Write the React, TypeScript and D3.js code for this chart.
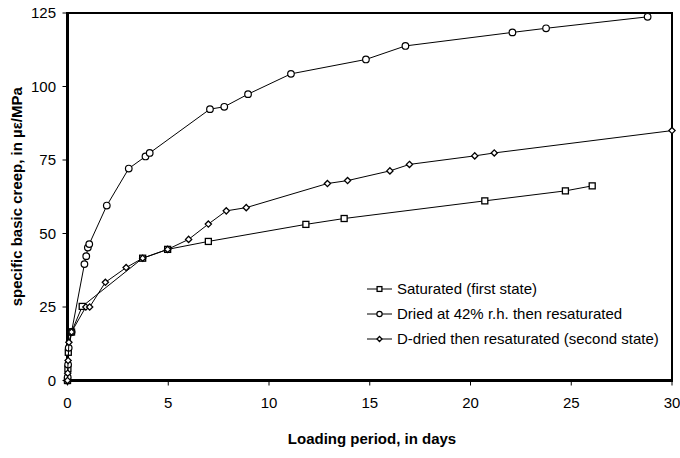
import React from "react";
import * as d3 from "d3";

const xTicks = [0, 5, 10, 15, 20, 25, 30];
const yTicks = [0, 25, 50, 75, 100, 125];

const satDays = [0, 0.02, 0.04, 0.2, 0.73, 3.73, 4.97, 6.99, 11.83, 13.73, 20.71, 24.71, 26.04];
const satVals = [0, 4.0, 9.6, 16.5, 25.2, 41.6, 44.6, 47.3, 53.1, 55.1, 61.1, 64.5, 66.2];

const driedDays = [0, 0.01, 0.03, 0.06, 0.2, 0.84, 0.93, 1.01, 1.08, 1.95, 3.04, 3.87, 4.08, 7.07, 7.78, 8.96, 11.09, 14.81, 16.77, 22.08, 23.75, 28.79];
const driedVals = [0, 1.1, 5.4, 11.1, 16.5, 39.6, 42.3, 45.2, 46.4, 59.5, 72.1, 76.2, 77.4, 92.3, 93.1, 97.4, 104.3, 109.2, 113.8, 118.4, 119.8, 123.7];

const ddDays = [0, 0.01, 0.03, 0.07, 0.2, 0.91, 1.1, 1.88, 2.91, 3.73, 4.97, 6.01, 6.99, 7.88, 8.87, 12.9, 13.9, 16.0, 16.97, 20.21, 21.18, 30.0];
const ddVals = [0, 2.5, 6.8, 13.0, 16.5, 25.0, 25.0, 33.4, 38.4, 41.6, 44.6, 48.0, 53.2, 57.7, 58.8, 67.0, 68.0, 71.3, 73.5, 76.4, 77.4, 85.0];

const legendLabels = [
  "Saturated (first state)",
  "Dried at 42% r.h. then resaturated",
  "D-dried then resaturated (second state)",
];

const W = 680;
const H = 458;
const left = 67.5;
const right = 672;
const top = 13;
const bottom = 380.5;

const FONT = "'Liberation Sans', Arial, sans-serif";

function Marker({ kind, x, y, small }: { kind: string; x: number; y: number; small?: boolean }) {
  const k = small ? 0.8 : 1;
  if (kind === "square") {
    const h = 3 * k;
    return <rect x={x - h} y={y - h} width={2 * h} height={2 * h} fill="white" stroke="black" strokeWidth={1.3} />;
  }
  if (kind === "circle") {
    return <circle cx={x} cy={y} r={3.3 * k} fill="white" stroke="black" strokeWidth={1.2} />;
  }
  const s = 3.1 * k;
  return (
    <path
      d={`M${x},${y - s}L${x + s},${y}L${x},${y + s}L${x - s},${y}Z`}
      fill="white"
      stroke="black"
      strokeWidth={1.3}
    />
  );
}

export default function App() {
  const x = d3.scaleLinear().domain([0, 30]).range([left, right]);
  const y = d3.scaleLinear().domain([0, 125]).range([bottom, top]);
  const line = d3
    .line<[number, number]>()
    .x((d) => x(d[0]))
    .y((d) => y(d[1]));

  const series = [
    { kind: "square", pts: satDays.map((d, i) => [d, satVals[i]] as [number, number]) },
    { kind: "circle", pts: driedDays.map((d, i) => [d, driedVals[i]] as [number, number]) },
    { kind: "diamond", pts: ddDays.map((d, i) => [d, ddVals[i]] as [number, number]) },
  ];

  const legY = [289, 314, 339];

  return (
    <svg
      width={W}
      height={H}
      style={{ position: "absolute", left: 0, top: 0, display: "block", background: "white" }}
      fontFamily={FONT}
    >
      <rect x={0} y={0} width={W} height={H} fill="white" />
      {/* frame */}
      <rect x={left} y={top} width={right - left} height={bottom - top} fill="none" stroke="black" strokeWidth={2} />
      <line x1={left} x2={left} y1={top - 1} y2={bottom + 1.5} stroke="black" strokeWidth={3} />
      <line x1={left - 1.5} x2={right + 1} y1={bottom} y2={bottom} stroke="black" strokeWidth={3} />

      {/* y ticks */}
      {yTicks.map((t) => (
        <g key={"y" + t}>
          <line x1={left - 5} x2={left} y1={y(t)} y2={y(t)} stroke="black" strokeWidth={1} />
          <text x={56} y={y(t)} dy="0.35em" textAnchor="end" fontSize={15} fill="black">
            {t}
          </text>
        </g>
      ))}
      {/* x ticks */}
      {xTicks.map((t) => (
        <g key={"x" + t}>
          <line x1={x(t)} x2={x(t)} y1={bottom} y2={bottom + 5} stroke="black" strokeWidth={1} />
          <text x={x(t)} y={403} dy="0.35em" textAnchor="middle" fontSize={15} fill="black">
            {t}
          </text>
        </g>
      ))}

      {/* axis titles */}
      <text x={372} y={439} dy="0.35em" textAnchor="middle" fontSize={15} fontWeight="bold" fill="black">
        Loading period, in days
      </text>
      <text
        transform={`translate(17,${(top + bottom) / 2}) rotate(-90)`}
        dy="0.35em"
        textAnchor="middle"
        fontSize={15}
        fontWeight="bold"
        fill="black"
      >
        specific basic creep, in µε/MPa
      </text>

      {/* series */}
      {series.map((s, si) => (
        <g key={"s" + si}>
          <path d={line(s.pts) || ""} fill="none" stroke="black" strokeWidth={1} />
          {s.pts.map((p, i) => (
            <Marker key={i} kind={s.kind} x={x(p[0])} y={y(p[1])} />
          ))}
        </g>
      ))}

      {/* legend */}
      {legendLabels.map((lab, i) => (
        <g key={"l" + i}>
          <line x1={367} x2={392} y1={legY[i]} y2={legY[i]} stroke="black" strokeWidth={1} />
          <Marker kind={series[i].kind} x={379.5} y={legY[i]} small />
          <text x={397} y={legY[i]} dy="0.35em" fontSize={15} fill="black">
            {lab}
          </text>
        </g>
      ))}
    </svg>
  );
}
